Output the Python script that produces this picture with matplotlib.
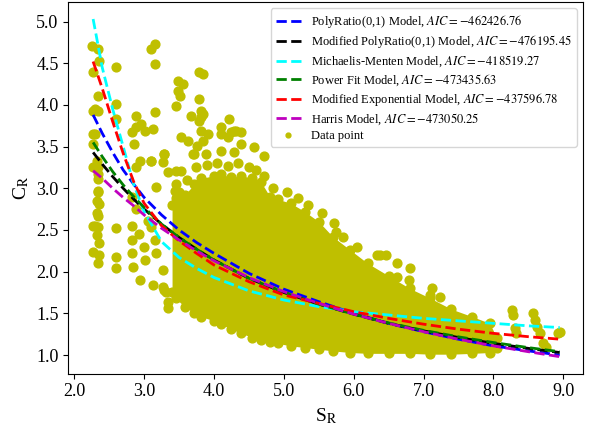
import matplotlib
matplotlib.use('Agg')
import matplotlib.pyplot as plt

plt.rcParams['font.family'] = ['Liberation Serif', 'DejaVu Serif']
plt.rcParams['mathtext.fontset'] = 'stix'

# fitted model curves
curve_x = [2.27, 2.4, 2.55, 2.7, 2.85, 3.0, 3.25, 3.5, 3.75, 4.0, 4.5, 5.0,
           5.5, 6.0, 6.5, 7.0, 7.5, 8.0, 8.5, 8.95]
polyratio = [3.88, 3.66, 3.43, 3.22, 3.05, 2.89, 2.68, 2.50, 2.35, 2.22, 1.98, 1.79,
             1.64, 1.50, 1.38, 1.28, 1.19, 1.11, 1.05, 1.00]
mod_polyratio = [3.43, 3.29, 3.14, 3.00, 2.87, 2.75, 2.57, 2.41, 2.27, 2.14, 1.92, 1.75,
                 1.61, 1.49, 1.38, 1.29, 1.21, 1.14, 1.08, 1.03]
michaelis = [5.03, 4.45, 3.95, 3.50, 3.05, 2.72, 2.36, 2.17, 2.04, 1.93, 1.77, 1.66,
             1.58, 1.52, 1.48, 1.44, 1.41, 1.38, 1.35, 1.33]
power_fit = [3.55, 3.38, 3.20, 3.04, 2.90, 2.77, 2.57, 2.41, 2.27, 2.14, 1.92, 1.75,
             1.61, 1.49, 1.385, 1.296, 1.218, 1.15, 1.089, 1.04]
mod_exp = [4.52, 4.20, 3.80, 3.42, 3.08, 2.82, 2.55, 2.37, 2.22, 2.08, 1.88, 1.72,
           1.62, 1.52, 1.44, 1.37, 1.31, 1.26, 1.22, 1.19]
harris = [3.21, 3.12, 3.00, 2.89, 2.79, 2.68, 2.52, 2.38, 2.25, 2.13, 1.93, 1.76,
          1.62, 1.49, 1.38, 1.28, 1.19, 1.11, 1.04, 0.98]

labels = ['PolyRatio(0,1) Model, $AIC=-462426.76$',
          'Modified PolyRatio(0,1) Model, $AIC=-476195.45$',
          'Michaelis-Menten Model, $AIC=-418519.27$',
          'Power Fit Model, $AIC=-473435.63$',
          'Modified Exponential Model, $AIC=-437596.78$',
          'Harris Model, $AIC=-473050.25$']
colors = ['b', 'k', 'cyan', 'g', 'r', 'm']

# dense core of the data cloud: lower / upper edge
core_x = [3.40, 3.45, 3.58, 3.72, 3.82, 4.0, 4.1, 4.25, 4.39, 4.55, 4.67, 4.8, 4.91,
          5.1, 5.3, 5.5, 5.7, 5.95, 6.2, 6.5, 6.8, 7.1, 7.4, 7.7, 7.95, 8.05]
core_low = [1.75, 1.68, 1.58, 1.50, 1.46, 1.41, 1.37, 1.31, 1.26, 1.21, 1.18, 1.16, 1.14,
            1.11, 1.09, 1.07, 1.05, 1.03, 1.02, 1.02, 1.02, 1.01, 1.01, 1.02, 1.03, 1.08]
core_high = [2.80, 2.88, 2.92, 3.05, 3.12, 3.15, 3.17, 3.13, 3.15, 3.12, 3.08, 2.9, 2.87,
             2.82, 2.72, 2.6, 2.42, 2.26, 2.1, 1.95, 1.8, 1.68, 1.55, 1.46, 1.38, 1.2]

# scattered data points outside the core
pts_x = [2.25, 2.34, 2.27, 2.36, 2.34, 2.27, 2.34, 2.27, 2.27, 2.34, 2.34, 2.36, 2.32,
         2.29, 2.29, 2.27, 2.32, 2.34, 2.34, 2.34, 2.32, 2.34, 2.29,
         2.27, 2.34, 2.32, 2.36, 2.27, 2.36, 2.34,
         2.60, 2.60, 2.60, 2.60, 2.60, 2.60,
         3.10, 3.15, 3.15, 3.15, 3.10, 3.17, 3.29, 3.13,
         3.48, 3.55, 3.48, 3.51, 3.46, 3.53, 3.53,
         3.79, 3.84, 3.79, 3.82, 3.84, 3.79, 3.82, 3.84, 3.76, 3.89, 3.70,
         4.22, 4.10, 4.24, 4.32, 4.39, 4.39, 4.10, 4.29, 4.58, 4.72, 4.10,
         2.89, 2.96, 3.01, 2.89, 2.82, 2.86, 2.94, 2.89, 3.10, 3.27, 3.29, 3.34,
         3.46, 3.44, 3.67, 3.82, 3.63, 3.72, 3.91, 4.20, 4.29,
         2.82, 2.82, 2.82, 2.84, 2.94, 3.15, 3.17, 3.13, 3.27, 3.27, 3.32, 3.34,
         3.34, 3.10, 2.82, 2.89, 3.06, 2.92, 3.00, 3.01, 3.29,
         3.45, 3.50, 3.62, 3.75, 3.90, 4.05, 4.20, 4.35, 4.50, 4.60, 4.72, 4.85,
         5.05, 5.20, 5.35, 5.55, 5.85, 6.05,
         5.72, 5.75, 6.33, 6.38, 6.47, 6.62, 6.62, 6.81, 6.79, 7.10, 7.24, 7.12,
         8.26, 8.28, 8.31, 8.33, 8.57, 8.60, 8.62, 8.67, 8.71, 8.76, 8.92, 8.95]
pts_y = [4.71, 4.67, 4.39, 4.53, 4.11, 3.93, 3.93, 3.65, 3.25, 3.17, 2.95, 2.81, 2.70,
         3.95, 3.65, 3.53, 3.33, 3.25, 3.11, 2.97, 2.85, 2.67, 2.55,
         2.55, 2.53, 2.44, 2.34, 2.24, 2.20, 2.10,
         4.45, 4.01, 3.83, 2.52, 2.18, 2.04,
         4.67, 4.73, 4.49, 3.91, 3.33, 3.01, 3.41, 3.71,
         4.29, 4.25, 4.17, 4.11, 3.99, 3.61, 3.21,
         4.39, 4.37, 4.07, 3.93, 3.89, 3.81, 3.69, 3.57, 3.51, 3.41, 3.41,
         3.83, 3.73, 3.67, 3.69, 3.67, 3.53, 3.65, 3.43, 3.49, 3.39, 3.45,
         3.87, 3.77, 3.69, 3.73, 3.67, 3.53, 3.33, 3.25, 3.33, 3.31, 3.41, 3.19,
         3.21, 2.97, 3.87, 3.85, 3.57, 3.41, 3.65, 3.61, 3.69,
         2.55, 2.38, 2.22, 2.06, 1.90, 2.38, 2.22, 1.84, 2.02, 1.82, 1.76, 1.64,
         1.56, 2.53, 2.89, 2.75, 2.61, 2.45, 2.30, 2.14, 1.78,
         3.05, 2.95, 3.10, 3.25, 3.28, 3.30, 3.27, 3.30, 3.25, 3.22, 3.15, 3.00,
         2.95, 2.88, 2.80, 2.70, 2.42, 2.30,
         2.58, 2.48, 2.20, 2.20, 2.20, 2.10, 1.94, 2.04, 1.90, 1.72, 1.70, 1.80,
         1.54, 1.48, 1.32, 1.26, 1.50, 1.42, 1.34, 1.26, 1.14, 1.10, 1.26, 1.28]

fig = plt.figure(figsize=(5.89, 4.25), dpi=100)
ax = fig.add_axes([0.116, 0.121, 0.874, 0.874])

dot_color = 'y'
ax.fill_between(core_x, core_low, core_high, color=dot_color, lw=0, zorder=1)
ax.scatter(core_x + core_x, core_low + core_high, s=40, color=dot_color, zorder=1)
dots = ax.scatter(pts_x, pts_y, s=40, color=dot_color, zorder=1, label='Data point')

curves = [polyratio, mod_polyratio, michaelis, power_fit, mod_exp, harris]
handles = []
for yv, c, lab in zip(curves, colors, labels):
    h, = ax.plot(curve_x, yv, '--', color=c, lw=2, label=lab, zorder=3)
    handles.append(h)
handles.append(dots)

ax.legend(handles=handles, loc='upper right', fontsize=9, markerscale=0.55,
          labelspacing=0.25)
ax.set_xticks([2, 3, 4, 5, 6, 7, 8, 9])
ax.set_xticklabels(['2.0', '3.0', '4.0', '5.0', '6.0', '7.0', '8.0', '9.0'])
ax.tick_params(labelsize=13)
ax.set_xlabel(r'S$_{\mathrm{R}}$', fontsize=14)
ax.set_ylabel(r'C$_{\mathrm{R}}$', fontsize=14)

plt.savefig('out.png', dpi=100)
